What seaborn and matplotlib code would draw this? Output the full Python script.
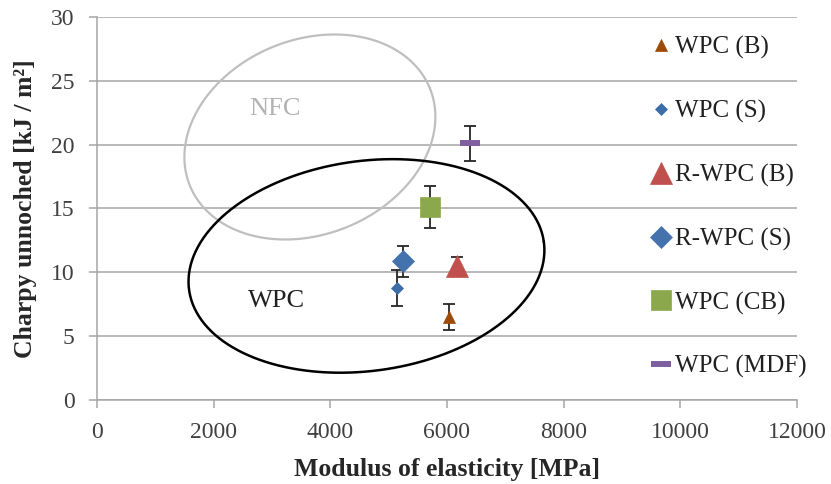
import numpy as np
import matplotlib
matplotlib.use("Agg")
import matplotlib.pyplot as plt
import seaborn as sns

# Data
series = ['WPC (B)', 'WPC (S)', 'R-WPC (B)', 'R-WPC (S)', 'WPC (CB)', 'WPC (MDF)']
modulus = [6040, 5140, 6170, 5240, 5710, 6400]
charpy = [6.5, 8.75, 10.5, 10.85, 15.1, 20.1]
charpy_err = [1.0, 1.4, 0.7, 1.2, 1.65, 1.4]

colors = ['#9C4A06', '#3D6DA8', '#C0504D', '#4472AC', '#8BA84C', '#7E5FA0']
markers = ['^', 'D', '^', 'D', 's', '_']
msizes = [8.6, 6.6, 16, 11.2, 15, 15]

sns.set_style("white")
plt.rcParams['font.family'] = ['Liberation Serif', 'DejaVu Serif']

fig, ax = plt.subplots(figsize=(8.31, 4.84), dpi=100)
fig.subplots_adjust(left=0.1167, right=0.959, top=0.9649, bottom=0.1736)

ax.set_xlim(0, 12000)
ax.set_ylim(0, 30)
ax.set_xticks(np.arange(0, 12001, 2000))
ax.set_yticks(np.arange(0, 31, 5))
ax.yaxis.grid(True, color='#a6a6a6', linewidth=1.1)
ax.set_axisbelow(True)
sns.despine(ax=ax, top=True, right=True)
for s in ['left', 'bottom']:
    ax.spines[s].set_color('#a6a6a6')
    ax.spines[s].set_linewidth(1.1)
ax.tick_params(axis='both', colors='#a6a6a6', labelcolor='#404040', labelsize=17,
               length=6, width=1.1, direction='out')
ax.tick_params(axis='y', pad=10, left=True)
ax.tick_params(axis='x', pad=10, bottom=True)

ax.set_xlabel('Modulus of elasticity [MPa]', fontsize=18.5, fontweight='bold', labelpad=11)
ax.set_ylabel('Charpy unnoched [kJ / m²]', fontsize=18.5, fontweight='bold', labelpad=10)

# region ellipses (pixel-space semi axes, rotated)
def draw_ellipse(cx, cy, a_px, b_px, angle, color, lw):
    t = np.linspace(0, 2 * np.pi, 300)
    th = np.deg2rad(angle)
    dx = a_px * np.cos(t) * np.cos(th) - b_px * np.sin(t) * np.sin(th)
    dy = a_px * np.cos(t) * np.sin(th) + b_px * np.sin(t) * np.cos(th)
    c = ax.transData.transform((cx, cy))
    pts = ax.transData.inverted().transform(np.column_stack([c[0] + dx, c[1] + dy]))
    ax.plot(pts[:, 0], pts[:, 1], color=color, lw=lw, zorder=1)

draw_ellipse(3650, 20.6, 129.5, 97.4, 22, '#bfbfbf', 1.6)
draw_ellipse(4620, 10.5, 179, 105, 7.7, 'black', 1.8)
ax.text(3060, 22.8, 'NFC', fontsize=19, color='#b3b3b3', ha='center', va='center')
ax.text(3085, 7.75, 'WPC', fontsize=19, color='#202020', ha='center', va='center')

handles = []
for name, x, y, e, c, m, ms in zip(series, modulus, charpy, charpy_err, colors, markers, msizes):
    ax.errorbar(x, y, yerr=e, fmt='none', ecolor='#262626', elinewidth=1.3,
                capsize=4.3, capthick=1.3, zorder=2)
    h, = ax.plot(x, y, linestyle='none', marker=m, color=c, ms=ms,
                 mew=4.3 if m == '_' else 0.5, mec=c, label=name, zorder=3)
    handles.append(h)

leg = ax.legend(handles=handles, labels=series, loc='upper left',
                bbox_to_anchor=(0.795, 0.95), frameon=False, fontsize=18,
                handlelength=0.6, handletextpad=0.25, labelspacing=1.63,
                borderpad=0, borderaxespad=0, numpoints=1)
for t in leg.get_texts():
    t.set_color('#202020')

fig.savefig('out.png', dpi=100)
